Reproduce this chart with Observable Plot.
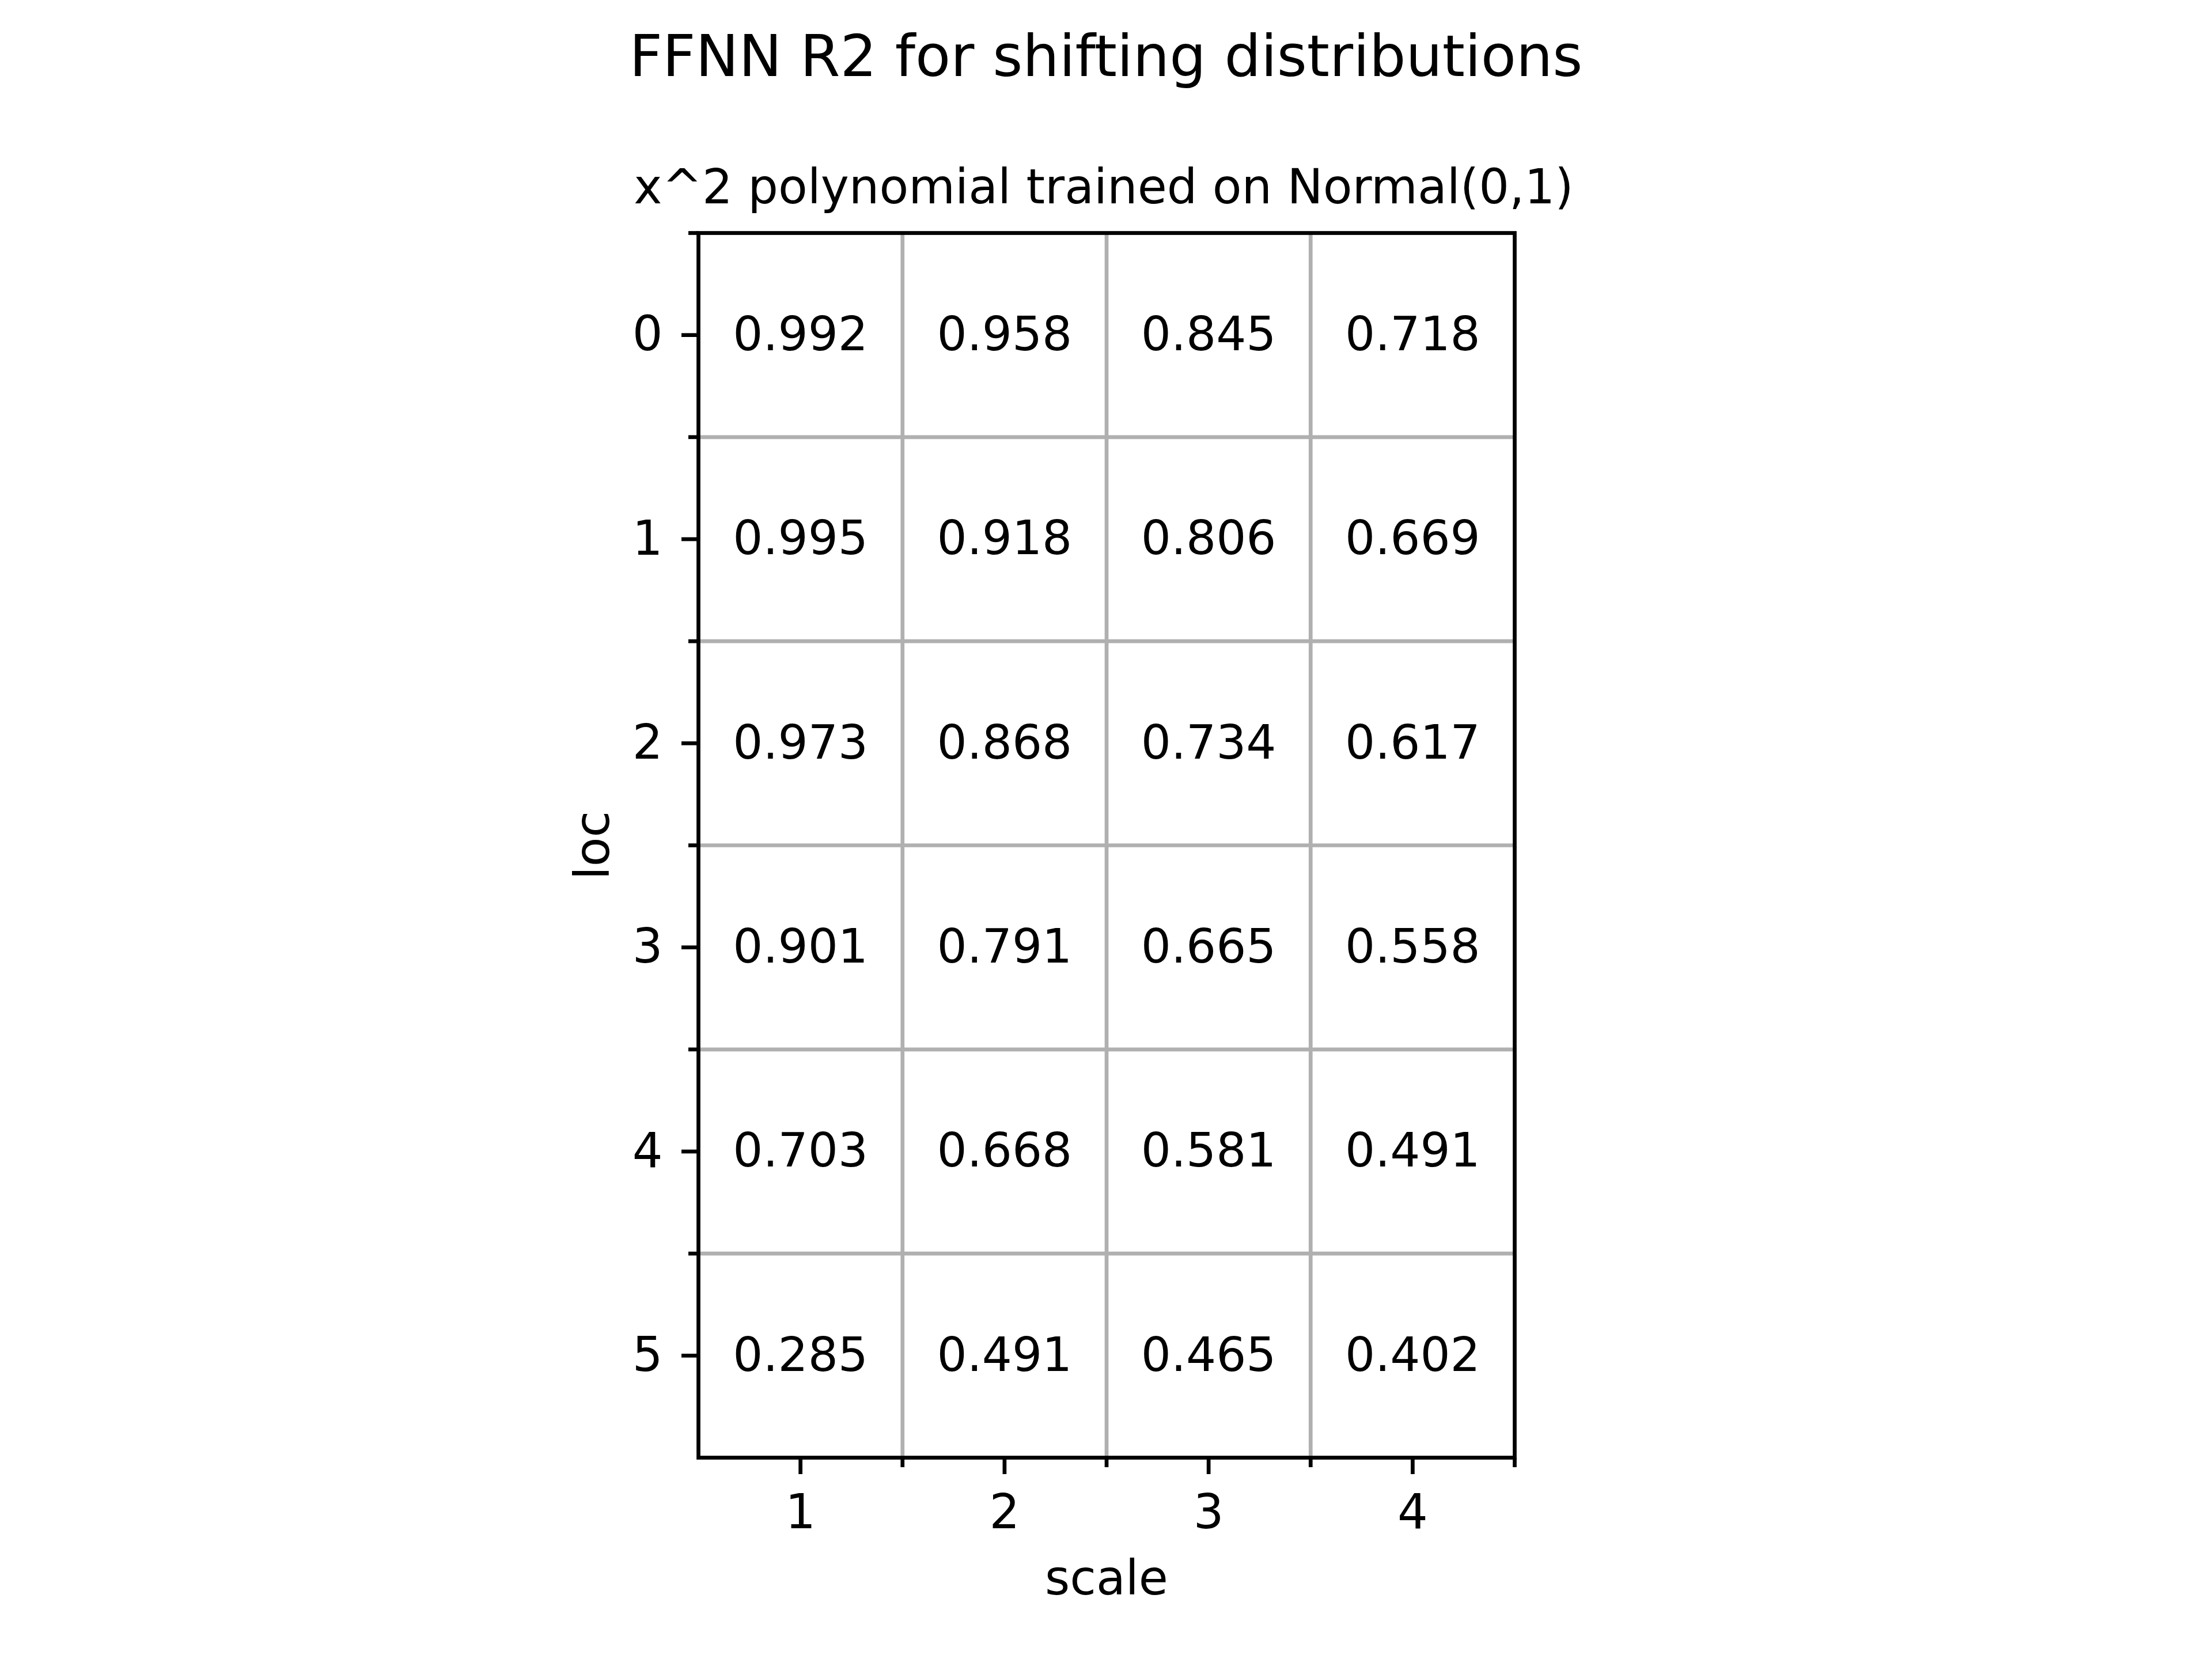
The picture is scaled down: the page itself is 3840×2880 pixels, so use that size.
<!DOCTYPE html>
<html>
<head>
<meta charset="utf-8">
<script src="https://cdn.jsdelivr.net/npm/d3@7"></script>
<script src="https://cdn.jsdelivr.net/npm/@observablehq/plot@0.6"></script>
<style>
  html, body { margin: 0; padding: 0; background: #fff; }
  #wrap { position: relative; width: 3840px; height: 2880px; font-family: "DejaVu Sans", sans-serif; color: #000; }
  #title { position: absolute; left: 0; width: 3840px; top: 48px; text-align: center; font-size: 100px; line-height: 100px; white-space: nowrap; }
  #subtitle { position: absolute; left: 0; width: 3832px; top: 283px; text-align: center; font-size: 83px; line-height: 83px; white-space: nowrap; }
  #chart { position: absolute; left: 0; top: 380px; }
</style>
</head>
<body>
<div id="wrap">
  <div id="title">FFNN R2 for shifting distributions</div>
  <div id="subtitle">x^2 polynomial trained on Normal(0,1)</div>
  <div id="chart"></div>
</div>
<script>
const scales = [1, 2, 3, 4];
const locs = [0, 1, 2, 3, 4, 5];
const r2_loc0 = [0.992, 0.958, 0.845, 0.718];
const r2_loc1 = [0.995, 0.918, 0.806, 0.669];
const r2_loc2 = [0.973, 0.868, 0.734, 0.617];
const r2_loc3 = [0.901, 0.791, 0.665, 0.558];
const r2_loc4 = [0.703, 0.668, 0.581, 0.491];
const r2_loc5 = [0.285, 0.491, 0.465, 0.402];
const xLabel = "scale";
const yLabel = "loc";

const rows = [r2_loc0, r2_loc1, r2_loc2, r2_loc3, r2_loc4, r2_loc5];
const table = [];
locs.forEach((l, i) => scales.forEach((s, j) => table.push({scale: s, loc: l, r2: rows[i][j]})));

const xEdges = d3.range(scales.length + 1).map(i => scales[0] - 0.5 + i);
const yEdges = d3.range(locs.length + 1).map(i => locs[0] - 0.5 + i);
const innerX = xEdges.slice(1, -1);
const innerY = yEdges.slice(1, -1);
const xMinor = xEdges.slice(1);
const yMinor = yEdges.slice(0, -1);

const LW = 6.7;
const FS = 83;

const plot = Plot.plot({
  width: 3840,
  height: 2500,
  marginLeft: 1212,
  marginRight: 1211,
  marginTop: 24,
  marginBottom: 350,
  style: {fontFamily: "DejaVu Sans", fontSize: FS + "px", background: "white", color: "black"},
  x: {domain: [xEdges[0], xEdges[xEdges.length - 1]]},
  y: {domain: [yEdges[yEdges.length - 1], yEdges[0]]},
  marks: [
    Plot.gridX(innerX, {stroke: "#b0b0b0", strokeOpacity: 1, strokeWidth: LW}),
    Plot.gridY(innerY, {stroke: "#b0b0b0", strokeOpacity: 1, strokeWidth: LW}),
    Plot.text(table, {x: "scale", y: "loc", text: d => d3.format(".3f")(d.r2), fontSize: 82, fill: "black", lineAnchor: "middle"}),
    Plot.axisX(scales, {anchor: "bottom", tickSize: 29, tickPadding: 35, fontSize: FS, strokeWidth: LW, label: null, tickFormat: d => String(d)}),
    Plot.axisX(xMinor, {anchor: "bottom", tickSize: 17, strokeWidth: LW, label: null, tickFormat: () => ""}),
    Plot.axisY(locs, {anchor: "left", tickSize: 29, tickPadding: 33, fontSize: FS, strokeWidth: LW, label: null, tickFormat: d => String(d)}),
    Plot.axisY(yMinor, {anchor: "left", tickSize: 17, strokeWidth: LW, label: null, tickFormat: () => ""}),
    Plot.frame({stroke: "black", strokeWidth: LW}),
    Plot.text([xLabel], {frameAnchor: "bottom", dy: 237, lineAnchor: "bottom", textAnchor: "middle", fontSize: FS, fill: "black"}),
    Plot.text([yLabel], {frameAnchor: "left", dx: -156, rotate: -90, lineAnchor: "bottom", textAnchor: "middle", fontSize: FS, fill: "black"})
  ]
});
document.getElementById("chart").appendChild(plot);
</script>
</body>
</html>
